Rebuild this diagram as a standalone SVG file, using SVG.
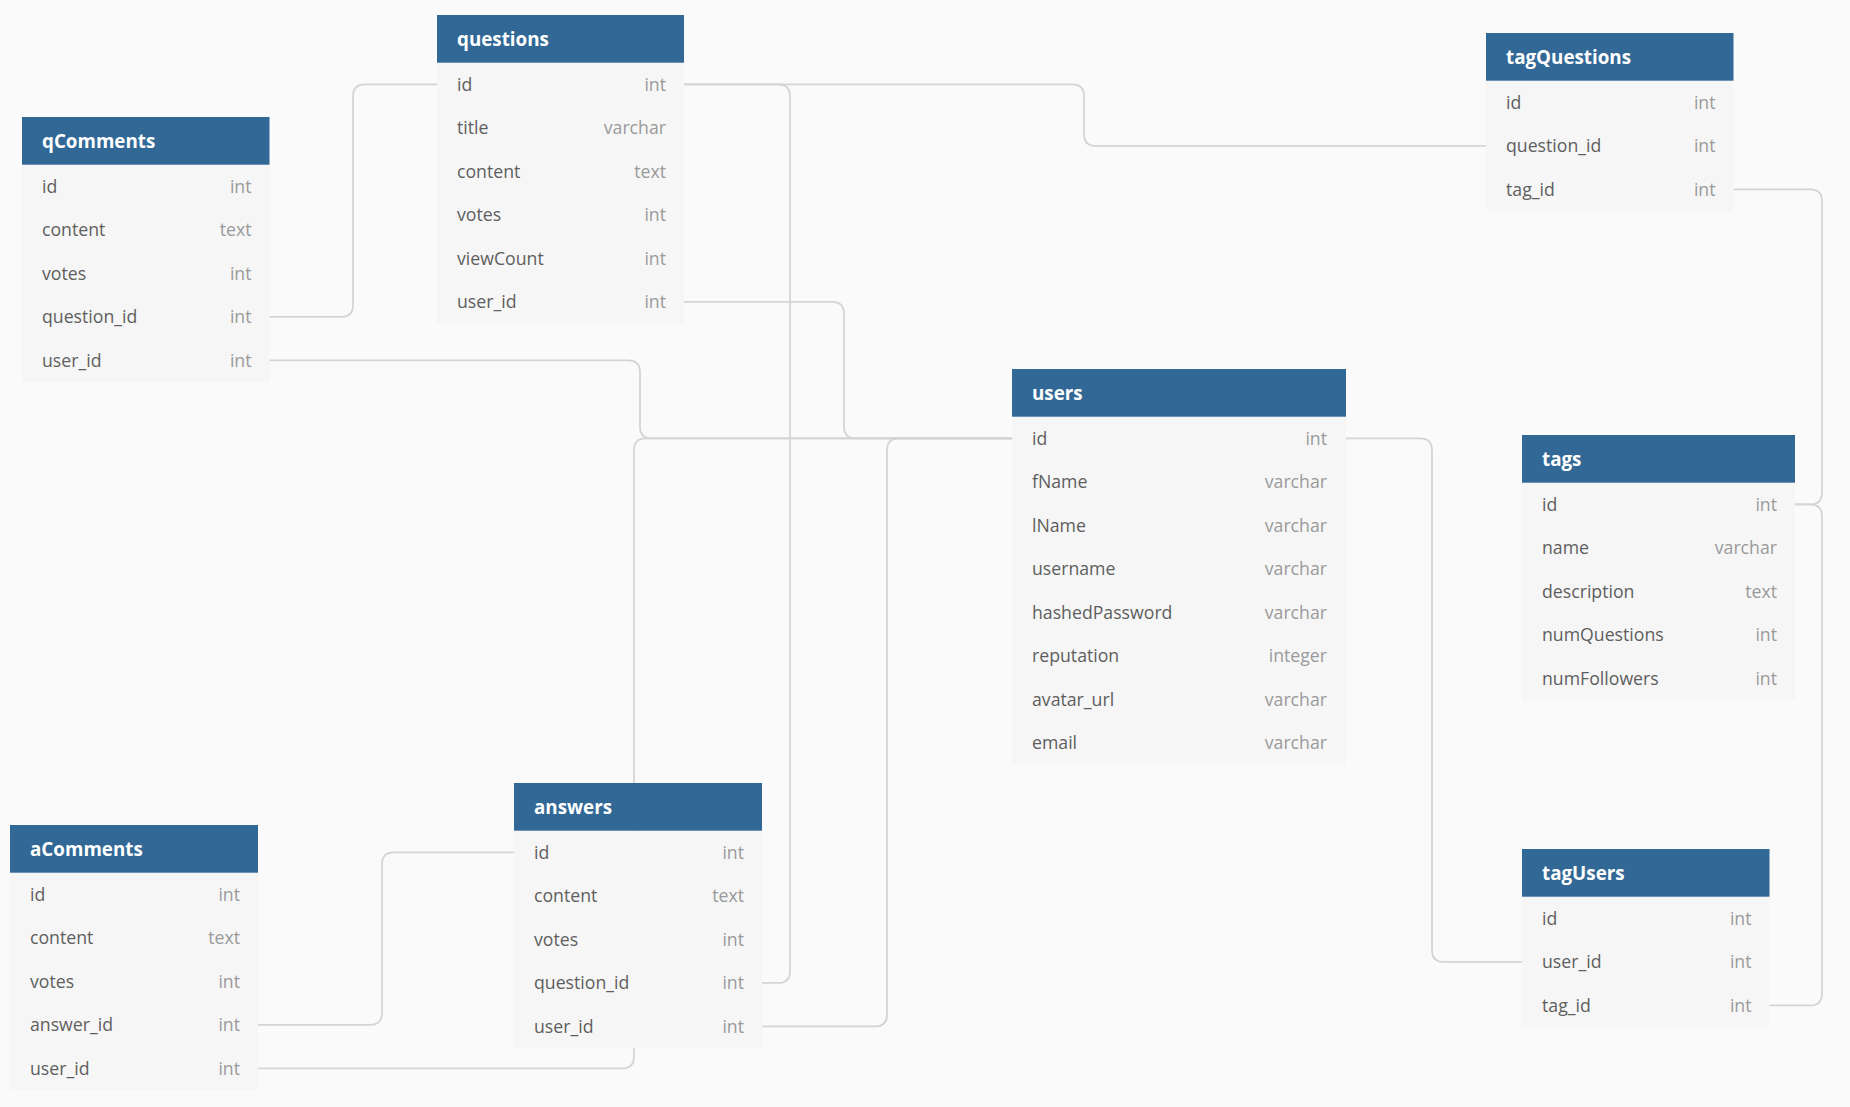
<svg xmlns="http://www.w3.org/2000/svg" width="1850" height="1107" viewBox="0 0 1850 1107">
<style>
.bg{fill:#fafafa}
.hd{fill:#316896}
.bd{fill:#f6f6f6}
.ht{font-family:"Open Sans","Liberation Sans",sans-serif;font-weight:700;font-size:18.8px;fill:#ffffff}
.fn{font-family:"Open Sans","Liberation Sans",sans-serif;font-size:17.7px;fill:#5e5e5e}
.ft{font-family:"Open Sans","Liberation Sans",sans-serif;font-size:17.7px;fill:#9a9a9a;text-anchor:end}
.cn{fill:none;stroke:#d4d4d4;stroke-width:1.8}
</style>
<rect class="bg" x="0" y="0" width="1850" height="1107"/>
<g id="connectors">
<path class="cn" d="M437,84.45 H365 Q353,84.45 353,96.45 V304.95 Q353,316.95 341,316.95 H269.5"/>
<path class="cn" d="M684,84.45 H778 Q790,84.45 790,96.45 V970.95 Q790,982.95 778,982.95 H762"/>
<path class="cn" d="M684,84.45 H1072 Q1084,84.45 1084,96.45 V133.95 Q1084,145.95 1096,145.95 H1486"/>
<path class="cn" d="M684,301.95 H832 Q844,301.95 844,313.95 V426.45 Q844,438.45 856,438.45 H1012"/>
<path class="cn" d="M269.5,360.45 H628 Q640,360.45 640,372.45 V426.45 Q640,438.45 652,438.45 H1012"/>
<path class="cn" d="M258,1068.45 H622 Q634,1068.45 634,1056.45 V450.45 Q634,438.45 646,438.45 H1012"/>
<path class="cn" d="M762,1026.45 H875 Q887,1026.45 887,1014.45 V450.45 Q887,438.45 899,438.45 H1012"/>
<path class="cn" d="M258,1024.95 H370 Q382,1024.95 382,1012.95 V864.45 Q382,852.45 394,852.45 H514"/>
<path class="cn" d="M1346,438.45 H1420 Q1432,438.45 1432,450.45 V949.95 Q1432,961.95 1444,961.95 H1522"/>
<path class="cn" d="M1733.5,189.45 H1810 Q1822,189.45 1822,201.45 V492.45 Q1822,504.45 1810,504.45 H1795"/>
<path class="cn" d="M1769.5,1005.45 H1810 Q1822,1005.45 1822,993.45 V516.45 Q1822,504.45 1810,504.45 H1795"/>
</g>
<g id="questions">
<rect class="bd" x="437" y="62.7" width="247" height="261"/>
<rect class="hd" x="437" y="15" width="247" height="47.7"/>
<text class="ht" x="457" y="45.6">questions</text>
<text class="fn" x="457" y="90.7">id</text><text class="ft" x="666" y="90.7">int</text>
<text class="fn" x="457" y="134.2">title</text><text class="ft" x="666" y="134.2">varchar</text>
<text class="fn" x="457" y="177.7">content</text><text class="ft" x="666" y="177.7">text</text>
<text class="fn" x="457" y="221.2">votes</text><text class="ft" x="666" y="221.2">int</text>
<text class="fn" x="457" y="264.7">viewCount</text><text class="ft" x="666" y="264.7">int</text>
<text class="fn" x="457" y="308.2">user_id</text><text class="ft" x="666" y="308.2">int</text>
</g>
<g id="qComments">
<rect class="bd" x="22" y="164.7" width="247.5" height="217.5"/>
<rect class="hd" x="22" y="117" width="247.5" height="47.7"/>
<text class="ht" x="42" y="147.6">qComments</text>
<text class="fn" x="42" y="192.7">id</text><text class="ft" x="251.5" y="192.7">int</text>
<text class="fn" x="42" y="236.2">content</text><text class="ft" x="251.5" y="236.2">text</text>
<text class="fn" x="42" y="279.7">votes</text><text class="ft" x="251.5" y="279.7">int</text>
<text class="fn" x="42" y="323.2">question_id</text><text class="ft" x="251.5" y="323.2">int</text>
<text class="fn" x="42" y="366.7">user_id</text><text class="ft" x="251.5" y="366.7">int</text>
</g>
<g id="tagQuestions">
<rect class="bd" x="1486" y="80.7" width="247.5" height="130.5"/>
<rect class="hd" x="1486" y="33" width="247.5" height="47.7"/>
<text class="ht" x="1506" y="63.6">tagQuestions</text>
<text class="fn" x="1506" y="108.7">id</text><text class="ft" x="1715.5" y="108.7">int</text>
<text class="fn" x="1506" y="152.2">question_id</text><text class="ft" x="1715.5" y="152.2">int</text>
<text class="fn" x="1506" y="195.7">tag_id</text><text class="ft" x="1715.5" y="195.7">int</text>
</g>
<g id="users">
<rect class="bd" x="1012" y="416.7" width="334" height="348"/>
<rect class="hd" x="1012" y="369" width="334" height="47.7"/>
<text class="ht" x="1032" y="399.6">users</text>
<text class="fn" x="1032" y="444.7">id</text><text class="ft" x="1327" y="444.7">int</text>
<text class="fn" x="1032" y="488.2">fName</text><text class="ft" x="1327" y="488.2">varchar</text>
<text class="fn" x="1032" y="531.7">lName</text><text class="ft" x="1327" y="531.7">varchar</text>
<text class="fn" x="1032" y="575.2">username</text><text class="ft" x="1327" y="575.2">varchar</text>
<text class="fn" x="1032" y="618.7">hashedPassword</text><text class="ft" x="1327" y="618.7">varchar</text>
<text class="fn" x="1032" y="662.2">reputation</text><text class="ft" x="1327" y="662.2">integer</text>
<text class="fn" x="1032" y="705.7">avatar_url</text><text class="ft" x="1327" y="705.7">varchar</text>
<text class="fn" x="1032" y="749.2">email</text><text class="ft" x="1327" y="749.2">varchar</text>
</g>
<g id="tags">
<rect class="bd" x="1522" y="482.7" width="273" height="217.5"/>
<rect class="hd" x="1522" y="435" width="273" height="47.7"/>
<text class="ht" x="1542" y="465.6">tags</text>
<text class="fn" x="1542" y="510.7">id</text><text class="ft" x="1777" y="510.7">int</text>
<text class="fn" x="1542" y="554.2">name</text><text class="ft" x="1777" y="554.2">varchar</text>
<text class="fn" x="1542" y="597.7">description</text><text class="ft" x="1777" y="597.7">text</text>
<text class="fn" x="1542" y="641.2">numQuestions</text><text class="ft" x="1777" y="641.2">int</text>
<text class="fn" x="1542" y="684.7">numFollowers</text><text class="ft" x="1777" y="684.7">int</text>
</g>
<g id="tagUsers">
<rect class="bd" x="1522" y="896.7" width="247.5" height="130.5"/>
<rect class="hd" x="1522" y="849" width="247.5" height="47.7"/>
<text class="ht" x="1542" y="879.6">tagUsers</text>
<text class="fn" x="1542" y="924.7">id</text><text class="ft" x="1751.5" y="924.7">int</text>
<text class="fn" x="1542" y="968.2">user_id</text><text class="ft" x="1751.5" y="968.2">int</text>
<text class="fn" x="1542" y="1011.7">tag_id</text><text class="ft" x="1751.5" y="1011.7">int</text>
</g>
<g id="answers">
<rect class="bd" x="514" y="830.7" width="248" height="217.5"/>
<rect class="hd" x="514" y="783" width="248" height="47.7"/>
<text class="ht" x="534" y="813.6">answers</text>
<text class="fn" x="534" y="858.7">id</text><text class="ft" x="744" y="858.7">int</text>
<text class="fn" x="534" y="902.2">content</text><text class="ft" x="744" y="902.2">text</text>
<text class="fn" x="534" y="945.7">votes</text><text class="ft" x="744" y="945.7">int</text>
<text class="fn" x="534" y="989.2">question_id</text><text class="ft" x="744" y="989.2">int</text>
<text class="fn" x="534" y="1032.7">user_id</text><text class="ft" x="744" y="1032.7">int</text>
</g>
<g id="aComments">
<rect class="bd" x="10" y="872.7" width="248" height="217.5"/>
<rect class="hd" x="10" y="825" width="248" height="47.7"/>
<text class="ht" x="30" y="855.6">aComments</text>
<text class="fn" x="30" y="900.7">id</text><text class="ft" x="240" y="900.7">int</text>
<text class="fn" x="30" y="944.2">content</text><text class="ft" x="240" y="944.2">text</text>
<text class="fn" x="30" y="987.7">votes</text><text class="ft" x="240" y="987.7">int</text>
<text class="fn" x="30" y="1031.2">answer_id</text><text class="ft" x="240" y="1031.2">int</text>
<text class="fn" x="30" y="1074.7">user_id</text><text class="ft" x="240" y="1074.7">int</text>
</g>
</svg>
